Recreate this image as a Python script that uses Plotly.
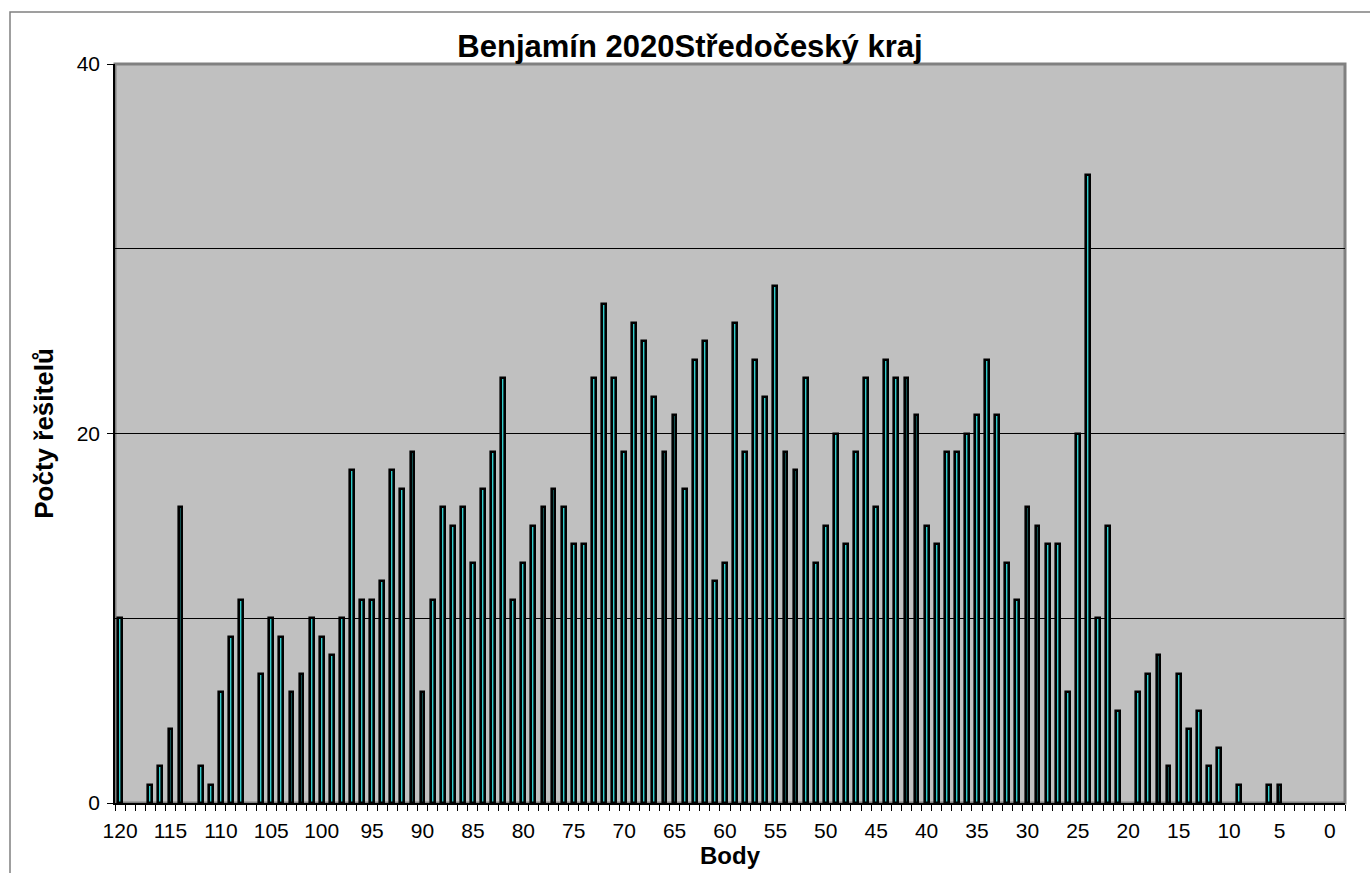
import plotly.graph_objects as go

# Points (Body) from 120 down to 0 and number of solvers (Počty řešitelů)
body = list(range(120, -1, -1))
pocty = [
    10, 0, 0, 1, 2, 4, 16, 0, 2, 1,        # 120..111
    6, 9, 11, 0, 7, 10, 9, 6, 7, 10,       # 110..101
    9, 8, 10, 18, 11, 11, 12, 18, 17, 19,  # 100..91
    6, 11, 16, 15, 16, 13, 17, 19, 23, 11, # 90..81
    13, 15, 16, 17, 16, 14, 14, 23, 27, 23,# 80..71
    19, 26, 25, 22, 19, 21, 17, 24, 25, 12,# 70..61
    13, 26, 19, 24, 22, 28, 19, 18, 23, 13,# 60..51
    15, 20, 14, 19, 23, 16, 24, 23, 23, 21,# 50..41
    15, 14, 19, 19, 20, 21, 24, 21, 13, 11,# 40..31
    16, 15, 14, 14, 6, 20, 34, 10, 15, 5,  # 30..21
    0, 6, 7, 8, 2, 7, 4, 5, 2, 3,          # 20..11
    0, 1, 0, 0, 1, 1, 0, 0, 0, 0,          # 10..1
    0,                                     # 0
]
x_tick_vals = list(range(120, -1, -5))
x_tick_text = [str(v) for v in x_tick_vals]
y_tick_vals = [0, 20, 40]

title_text = "Benjamín 2020Středočeský kraj"
x_title = "Body"
y_title = "Počty řešitelů"

W, H = 1370, 873
ML, MR, MT, MB = 115, 25, 64, 70
PW = W - ML - MR
PH = H - MT - MB

# zero counts draw no bar (no outline stub on the axis)
bar_y = [v if v > 0 else None for v in pocty]

fig = go.Figure()
fig.add_trace(go.Bar(
    x=body, y=bar_y, width=0.38,
    marker=dict(color="#33CCCC", line=dict(color="black", width=2.6)),
    hoverinfo="x+y",
))

font_main = "Liberation Sans, Arial, sans-serif"

fig.update_layout(
    width=W, height=H,
    margin=dict(l=ML, r=MR, t=MT, b=MB, autoexpand=False),
    paper_bgcolor="white",
    plot_bgcolor="#C0C0C0",
    showlegend=False,
    bargap=0,
    title=dict(text="<b>" + title_text + "</b>", x=690 / W, xref="container", xanchor="center",
               y=1 - 46 / H, yref="container", yanchor="middle",
               font=dict(family=font_main, size=31, color="black")),
    font=dict(family=font_main, color="black"),
)

fig.update_xaxes(
    range=[120.5, -1.5], automargin=False,
    tickmode="array", tickvals=x_tick_vals, ticktext=x_tick_text,
    ticks="", ticklabelstandoff=8,
    tickfont=dict(family=font_main, size=21, color="black"),
    showgrid=False, zeroline=False,
    showline=True, linecolor="black", linewidth=1.5,
    minor=dict(tickmode="linear", tick0=0.5, dtick=1, ticks="outside",
               ticklen=6, tickcolor="black", tickwidth=1, showgrid=False),
    title=dict(text="<b>" + x_title + "</b>", standoff=0,
               font=dict(family=font_main, size=24, color="black")),
)

fig.update_yaxes(
    range=[0, 40], automargin=False,
    tickmode="array", tickvals=y_tick_vals,
    ticks="outside", ticklen=6, tickcolor="black", tickwidth=1,
    ticklabelstandoff=3,
    tickfont=dict(family=font_main, size=21, color="black"),
    showgrid=True, gridcolor="black", gridwidth=1,
    zeroline=False,
    showline=True, linecolor="black", linewidth=1.5,
    minor=dict(tickmode="linear", tick0=0, dtick=10, ticks="",
               showgrid=True, gridcolor="black", gridwidth=1),
    title=dict(text="<b>" + y_title + "</b>", standoff=16,
               font=dict(family=font_main, size=26, color="black")),
)

# plot-area gray frame (top/right) and outer chart border
fig.add_shape(type="rect", xref="paper", yref="paper", x0=0, x1=1, y0=0, y1=1,
              line=dict(color="#808080", width=3), layer="below")


def px_x(px):
    return (px - ML) / PW


def px_y(py):
    return 1 - (py - MT) / PH


fig.add_shape(type="rect", xref="paper", yref="paper",
              x0=px_x(10), x1=px_x(1380), y0=px_y(885), y1=px_y(12),
              line=dict(color="#808080", width=1.5), layer="below")

fig.write_html(
    "out.html",
    config={"displayModeBar": False},
    post_script="document.body.style.margin='0';document.body.style.overflow='hidden';",
)
